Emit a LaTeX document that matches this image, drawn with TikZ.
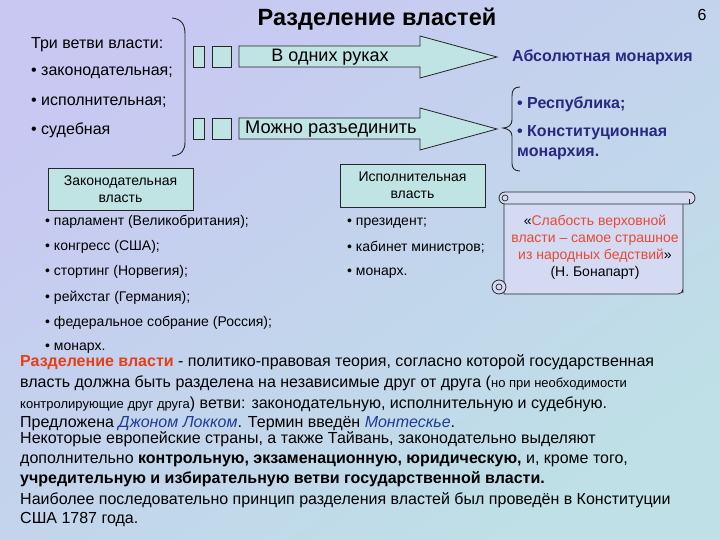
\documentclass[tikz,border=0pt]{standalone}
\usepackage{fontspec}
\setmainfont{Liberation Sans}
\usetikzlibrary{positioning}

\definecolor{bgtop}{RGB}{200,200,242}
\definecolor{bgbot}{RGB}{190,224,230}
\definecolor{boxfill}{RGB}{192,228,228}
\definecolor{navy}{RGB}{40,40,130}
\definecolor{quotered}{RGB}{232,72,52}
\definecolor{termred}{RGB}{230,62,22}
\definecolor{nameblue}{RGB}{30,60,150}
\definecolor{scrollfill}{RGB}{212,218,242}

\begin{document}
\begin{tikzpicture}[x=1pt,y=-1pt,
  lead/.style={anchor=west,inner sep=0pt,font=\fontsize{16}{19}\selectfont},
  sq/.style={draw=black!85,fill=boxfill,line width=0.8pt,inner sep=0pt,minimum height=21},
  blockarrow/.style={draw=black!85,fill=boxfill,line width=0.8pt},
  bracket/.style={draw=black!85,line width=0.9pt},
  verdict/.style={anchor=west,inner sep=0pt,align=left,text=navy,font=\bfseries\fontsize{16}{20}\selectfont},
  box/.style={draw=black!85,fill=boxfill,line width=0.8pt,inner sep=0pt,align=center,
    minimum width=145,font=\fontsize{14}{17}\selectfont},
  item/.style={anchor=west,inner sep=0pt,font=\fontsize{14}{16}\selectfont},
  defline/.style={anchor=base west,inner sep=0pt,font=\fontsize{16}{19}\selectfont},
  scroll/.style={draw=black!85,fill=scrollfill,line width=0.8pt}]

\useasboundingbox (0,0) rectangle (720,540);
\shade[top color=bgtop,bottom color=bgbot,shading angle=35] (0,0) rectangle (720,540);

\node[font=\bfseries\fontsize{23.5}{27}\selectfont] (title) at (377,19) {Разделение властей};
\node[font=\fontsize{16}{18}\selectfont] (pagenum) at (702,15) {6};

\node[lead] (branches) at (31,45) {Три ветви власти:};
\node[lead] (legis) at (31,73) {• законодательная;};
\node[lead] (exec) at (31,102) {• исполнительная;};
\node[lead] (judic) at (31,130) {• судебная};
\draw[bracket] (172,18) .. controls (182,19) and (185,25) .. (185,34) -- (185,142)
  .. controls (185,150) and (182,155) .. (172,156);

\node[sq,minimum width=11] (sqa) at (198.5,56.5) {};
\node[sq,minimum width=19] (sqb) at (221.5,56.5) {};
\node[sq,minimum width=11] (sqc) at (198.5,128.5) {};
\node[sq,minimum width=19] (sqd) at (221.5,128.5) {};

\filldraw[blockarrow] (239,46) -- (420,46) -- (420,36) -- (497,57) -- (420,78) -- (420,67) -- (239,67) -- cycle;
\filldraw[blockarrow] (239,118) -- (420,118) -- (420,108) -- (497,129) -- (420,150) -- (420,139) -- (239,139) -- cycle;
\node[font=\fontsize{18}{20}\selectfont] (hands) at (330,57) {В одних руках};
\node[anchor=west,inner sep=0pt,font=\fontsize{18.3}{20}\selectfont] (split) at (245,129) {Можно разъединить};

\node[verdict] (absmon) at (512,57) {Абсолютная монархия};
\draw[bracket] (520,87) .. controls (514,87) and (512,90) .. (512,96) -- (512,120)
  .. controls (512,125) and (508,128) .. (503,128) .. controls (508,129) and (512,131) .. (512,136)
  -- (512,163) .. controls (512,168) and (514,171) .. (520,171);
\node[verdict] (republic) at (517,104) {• Республика;};
\node[verdict] (constmon) at (517,143) {• Конституционная\\монархия.};

\node[box,minimum height=42] (legbox) at (120.5,189) {Законодательная\\власть};
\node[box,minimum height=43] (exebox) at (412.5,185.5) {Исполнительная\\власть};

\foreach \t [count=\i] in {парламент (Великобритания);, конгресс (США);, стортинг (Норвегия);,
  рейхстаг (Германия);, федеральное собрание (Россия);, монарх.}
  \node[item] (leg\i) at (45,{196.5+25.2*\i}) {• \t};
\foreach \t [count=\i] in {президент;, кабинет министров;, монарх.}
  \node[item] (exe\i) at (347,{197.5+25.2*\i}) {• \t};

\filldraw[scroll] (504,198) -- (504,294) -- (677,294) [rounded corners=5] -- (683,294) -- (683,288) [sharp corners] -- (683,198);
\filldraw[scroll] (499,287) circle[radius=7];
\draw[bracket,line width=0.7pt] (499,287) circle[radius=3];
\filldraw[scroll,rounded corners=6] (499,192) rectangle (695,204);
\draw[bracket,line width=0.7pt] (505,198) circle[radius=3];
\draw[bracket,line width=0.7pt] (689,204) -- (689,199);
\node[align=center,font=\fontsize{14}{17}\selectfont] (quote) at (595,247)
  {«{\color{quotered}Слабость верховной}\\{\color{quotered}власти – самое страшное}\\
   {\color{quotered}из народных бедствий}»\\(Н. Бонапарт)};

\node[defline] (def1) at (20,366) {{\color{termred}\bfseries Разделение власти} - политико-правовая теория, согласно которой государственная};
\node[defline] (def2) at (20,387) {власть должна быть разделена на независимые друг от друга ({\fontsize{13}{15}\selectfont но при необходимости}};
\node[defline] (def3) at (20,408) {{\fontsize{13}{15}\selectfont контролирующие друг друга}) ветви: законодательную, исполнительную и судебную.};
\node[defline] (def4) at (20,427) {Предложена {\color{nameblue}\itshape Джоном Локком}. Термин введён {\color{nameblue}\itshape Монтескье}.};
\node[defline] (def5) at (20,443) {Некоторые европейские страны, а также Тайвань, законодательно выделяют};
\node[defline] (def6) at (20,463) {дополнительно \textbf{контрольную, экзаменационную, юридическую,} и, кроме того,};
\node[defline] (def7) at (20,483) {\textbf{учредительную и избирательную ветви государственной власти.}};
\node[defline] (def8) at (20,504) {Наиболее последовательно принцип разделения властей был проведён в Конституции};
\node[defline] (def9) at (20,523) {США 1787 года.};
\end{tikzpicture}
\end{document}
